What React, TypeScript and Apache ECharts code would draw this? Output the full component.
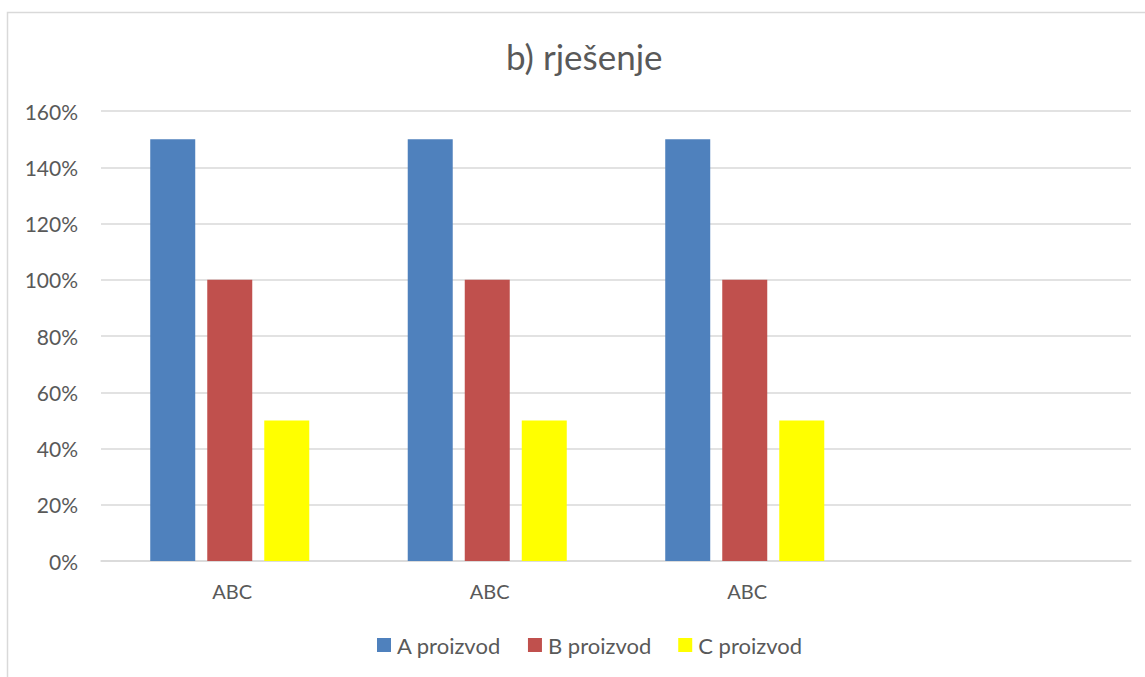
import React, { useEffect, useRef } from "react";
import * as echarts from "echarts";

const categories = ["ABC", "ABC", "ABC", ""];
const seriesNames = ["A proizvod", "B proizvod", "C proizvod"];
const aValues = [150, 150, 150, null];
const bValues = [100, 100, 100, null];
const cValues = [50, 50, 50, null];
const colors = ["#4f81bd", "#c0504d", "#ffff00"];
const titleText = "b) rješenje";

const FONT = "Lato, 'Open Sans', sans-serif";

export default function App() {
  const ref = useRef<HTMLDivElement>(null);
  useEffect(() => {
    const chart = echarts.init(ref.current!, null, { renderer: "svg" });
    const data = [aValues, bValues, cValues];
    chart.setOption({
      animation: false,
      backgroundColor: "#ffffff",
      textStyle: { fontFamily: FONT },
      title: {
        text: titleText,
        left: 501,
        top: 33,
        padding: 5,
        textStyle: { fontFamily: FONT, fontSize: 35, fontWeight: "normal", color: "#595959" },
      },
      legend: {
        bottom: 16,
        left: 372,
        itemWidth: 14,
        itemHeight: 14,
        itemGap: 27,
        icon: "rect",
        textStyle: { fontFamily: FONT, fontSize: 22, color: "#595959", padding: [0, 0, 0, 1] },
        data: seriesNames,
      },
      grid: { left: 101, right: 14, top: 111, bottom: 116, containLabel: false },
      xAxis: {
        type: "category",
        data: categories,
        axisLine: { lineStyle: { color: "#d9d9d9", width: 1.5 } },
        axisTick: { show: false },
        axisLabel: { fontFamily: FONT, fontSize: 20, color: "#595959", margin: 20, padding: [0, 0, 0, 5] },
      },
      yAxis: {
        type: "value",
        min: 0,
        max: 160,
        interval: 20,
        axisLine: { show: false },
        axisTick: { show: false },
        splitLine: { lineStyle: { color: "#d9d9d9", width: 1.5 } },
        axisLabel: {
          fontFamily: FONT,
          fontSize: 21,
          color: "#595959",
          margin: 23,
          formatter: (v: number) => v + "%",
        },
      },
      graphic: [
        {
          type: "polyline",
          shape: { points: [[7.5, 700], [7.5, 12.5], [1200, 12.5]] },
          style: { stroke: "#d9d9d9", fill: null, lineWidth: 1.5 },
          silent: true,
        },
      ],
      series: seriesNames.map((name, i) => ({
        name,
        type: "bar",
        data: data[i],
        barWidth: 45,
        barGap: "26.7%",
        itemStyle: { color: colors[i] },
      })),
    });
    return () => chart.dispose();
  }, []);
  return (
    <div
      ref={ref}
      style={{ position: "fixed", left: 0, top: 0, width: 1145, height: 677 }}
    />
  );
}
